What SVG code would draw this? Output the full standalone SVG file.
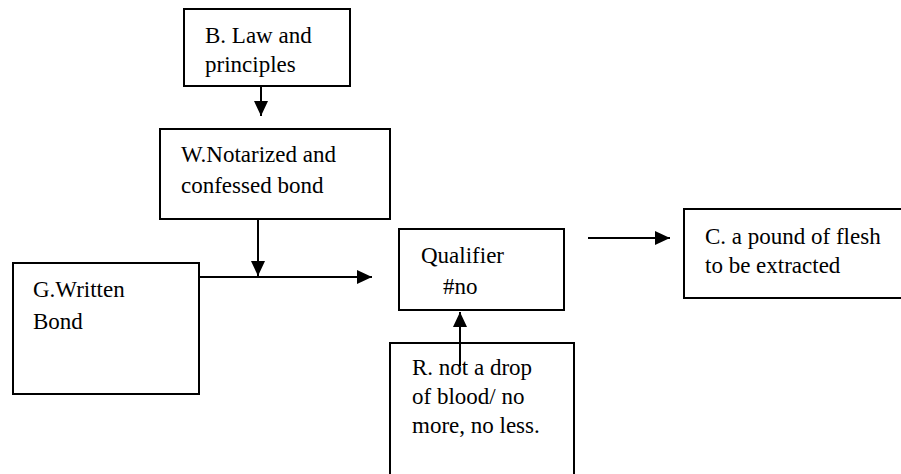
<svg xmlns="http://www.w3.org/2000/svg" width="901" height="474" viewBox="0 0 901 474">
<defs>
<marker id="ah" markerUnits="userSpaceOnUse" markerWidth="16" markerHeight="14" refX="15" refY="7" orient="auto">
<path d="M0,0 L15,7 L0,14 z" fill="#000"/>
</marker>
</defs>
<style>
.box{fill:#fff;stroke:#000;stroke-width:2}
.t{font-family:'Liberation Serif','Times New Roman',serif;font-size:23px;fill:#000}
.c{stroke:#000;stroke-width:2;fill:none;marker-end:url(#ah)}
</style>
<rect width="901" height="474" fill="#fff"/>
<g id="nodeB">
<rect class="box" x="184" y="9" width="166" height="77"/>
<text class="t" x="205" y="43">B. Law and</text>
<text class="t" x="205" y="72">principles</text>
</g>
<g id="nodeW">
<rect class="box" x="160" y="129" width="230" height="90"/>
<text class="t" x="181" y="162">W.Notarized and</text>
<text class="t" x="181" y="193">confessed bond</text>
</g>
<g id="nodeG">
<rect class="box" x="13" y="263" width="186" height="131"/>
<text class="t" x="33" y="297">G.Written</text>
<text class="t" x="33" y="329">Bond</text>
</g>
<g id="nodeQ">
<rect class="box" x="399" y="229" width="165" height="81"/>
<text class="t" x="421" y="263">Qualifier</text>
<text class="t" x="443" y="294">#no</text>
</g>
<g id="nodeR">
<rect class="box" x="390" y="343" width="184" height="140"/>
<text class="t" x="412" y="375">R. not a drop</text>
<text class="t" x="412" y="404">of blood/ no</text>
<text class="t" x="412" y="433">more, no less.</text>
</g>
<g id="nodeC">
<rect class="box" x="684" y="209" width="230" height="89"/>
<text class="t" x="705" y="244">C. a pound of flesh</text>
<text class="t" x="705" y="273">to be extracted</text>
</g>
<g id="connectors">
<line class="c" x1="261" y1="86" x2="261" y2="116"/>
<line class="c" x1="258" y1="219" x2="258" y2="276"/>
<line class="c" x1="199" y1="277" x2="372" y2="277"/>
<line class="c" x1="460" y1="366" x2="460" y2="312"/>
<line class="c" x1="588" y1="238" x2="670" y2="238"/>
</g>
</svg>
